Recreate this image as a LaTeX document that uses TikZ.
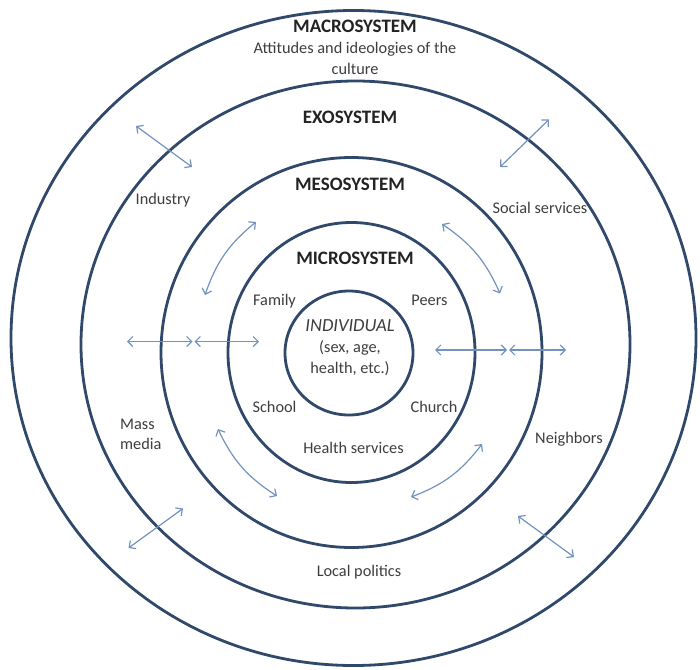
\documentclass[tikz,border=0pt]{standalone}
\usepackage{fontspec}
\setmainfont{Carlito}
\usetikzlibrary{arrows.meta}
\definecolor{ringc}{HTML}{30496B}
\definecolor{arrc}{HTML}{7393BE}
\definecolor{txtc}{HTML}{3E3E3E}
\definecolor{headc}{HTML}{232323}
\begin{document}
\begin{tikzpicture}[x=1pt,y=-1pt,
  ring/.style={draw=ringc, line width=2.8pt},
  lab/.style={text=txtc, font=\fontsize{16.3}{20.5}\selectfont, inner sep=0pt, align=center},
  labl/.style={text=txtc, font=\fontsize{16.3}{20}\selectfont, inner sep=0pt, align=left},
  hd/.style={text=headc, font=\fontsize{19}{22}\selectfont\bfseries, inner sep=0pt},
  dbl/.style={draw=arrc, line width=1.2pt,
    {Straight Barb[length=5pt,width=10pt]}-{Straight Barb[length=5pt,width=10pt]}}]
\fill[white] (0,0) rectangle (700,669);
\useasboundingbox (0,0) rectangle (700,669);
% rings
\draw[ring] (353.5,338) ellipse [x radius=342.5pt, y radius=327.5pt];
\draw[ring] (355.5,344.5) ellipse [x radius=274.5pt, y radius=263.5pt];
\draw[ring] (351.5,352.5) ellipse [x radius=190.5pt, y radius=195pt];
\draw[ring] (351.5,352.5) ellipse [x radius=123.5pt, y radius=130pt];
\draw[ring] (349,353) ellipse [x radius=64pt, y radius=62pt];
% headings
\node[hd] (macro) at (355,26) {MACROSYSTEM};
\node[lab] (att) at (355,58.5) {Attitudes and ideologies of the\\culture};
\node[hd] (exo) at (350,117) {EXOSYSTEM};
\node[hd] (meso) at (350,184) {MESOSYSTEM};
\node[hd] (micro) at (355,258) {MICROSYSTEM};
% individual
\node[text=txtc, font=\fontsize{18.5}{22}\selectfont\itshape, inner sep=0pt] (ind) at (350,325.5) {INDIVIDUAL};
\node[lab] (indsub) at (350,358) {(sex, age,\\health, etc.)};
% micro labels
\node[lab] (family) at (274.5,301) {Family};
\node[lab] (peers) at (429.5,300) {Peers};
\node[lab] (school) at (274.5,406.5) {School};
\node[lab] (church) at (434,406.5) {Church};
\node[lab] (health) at (353.5,448) {Health services};
% exo labels
\node[lab] (industry) at (163,200) {Industry};
\node[lab] (social) at (540,208) {Social services};
\node[labl, anchor=west] (mass) at (120,434) {Mass\\media};
\node[lab] (neigh) at (569,439) {Neighbors};
\node[lab] (local) at (359,572.5) {Local politics};
% straight arrows
\coordinate (ula) at (136,126); \coordinate (ulb) at (192,167);
\coordinate (ura) at (549,119.5); \coordinate (urb) at (500,167);
\coordinate (lla) at (183,508.5); \coordinate (llb) at (128.5,548);
\coordinate (lra) at (518,516); \coordinate (lrb) at (574,557);
\draw[dbl] (ula) -- (ulb);
\draw[dbl] (ura) -- (urb);
\draw[dbl] (lla) -- (llb);
\draw[dbl] (lra) -- (lrb);
% horizontal arrows
\coordinate (hla) at (127,341.5); \coordinate (hlb) at (192.5,341.5);
\coordinate (hlc) at (194.5,341.5); \coordinate (hld) at (259,341.5);
\coordinate (hra) at (435,350); \coordinate (hrb) at (507,350);
\coordinate (hrc) at (509,350); \coordinate (hrd) at (566,350);
\draw[dbl] (hla) -- (hlb);
\draw[dbl] (hlc) -- (hld);
\draw[dbl] (hra) -- (hrb);
\draw[dbl] (hrc) -- (hrd);
% curved arrows
\coordinate (cula) at (256,222); \coordinate (culb) at (205,295);
\coordinate (cura) at (442,224); \coordinate (curb) at (500,293.5);
\coordinate (clla) at (218,429); \coordinate (cllb) at (277,496);
\coordinate (clra) at (482,444); \coordinate (clrb) at (411,497);
\draw[dbl] (cula) to[bend right=16] (culb);
\draw[dbl] (cura) to[bend left=16] (curb);
\draw[dbl] (clla) to[bend right=16] (cllb);
\draw[dbl] (clra) to[bend left=16] (clrb);
\end{tikzpicture}
\end{document}
